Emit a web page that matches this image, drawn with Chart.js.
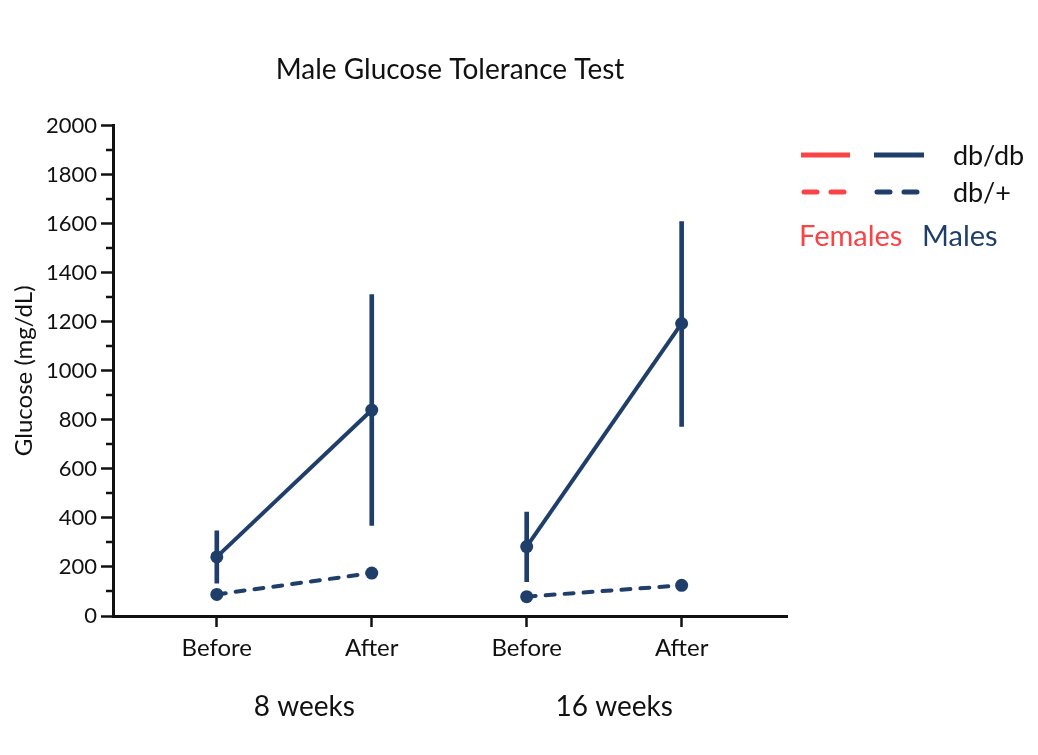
<!DOCTYPE html>
<html>
<head>
<meta charset="utf-8">
<script src="https://cdn.jsdelivr.net/npm/chart.js@4.4.1/dist/chart.umd.min.js"></script>
<style>
  body { margin: 0; background: #fff; font-family: Lato, sans-serif; }
  #wrap { position: relative; width: 1038px; height: 755px; }
  #legend { position: absolute; left: 0; top: 0; width: 1038px; height: 755px; pointer-events: none; }
  #legend svg { position: absolute; left: 0; top: 0; }
  .lbl { position: absolute; font-size: 27px; color: #111; line-height: 1; }
</style>
</head>
<body>
<div id="wrap">
  <canvas id="graph" width="1038" height="755"></canvas>
  <div id="legend">
    <svg width="1038" height="755">
      <line x1="801" y1="155" x2="850" y2="155" stroke="#f94346" stroke-width="5"/>
      <line x1="874" y1="155" x2="924" y2="155" stroke="#1f3f6a" stroke-width="5"/>
      <line x1="804" y1="192" x2="846" y2="192" stroke="#f94346" stroke-width="5" stroke-linecap="round" stroke-dasharray="13 14"/>
      <line x1="877" y1="192" x2="919" y2="192" stroke="#1f3f6a" stroke-width="5" stroke-linecap="round" stroke-dasharray="13 14"/>
    </svg>
    <span class="lbl" style="left:953px;top:141px;">db/db</span>
    <span class="lbl" style="left:953px;top:178px;">db/+</span>
    <span class="lbl" style="left:799px;top:220px;font-size:29px;color:#f94346;">Females</span>
    <span class="lbl" style="left:922px;top:220px;font-size:29px;color:#1f3f6a;">Males</span>
  </div>
</div>
<script>
// values
const categories = ["Before", "After", "Before", "After"];
const groups = ["8 weeks", "16 weeks"];
const dbdbMean = [241, 840, 283, 1193];
const dbdbLow = [134, 369, 140, 773];
const dbdbHigh = [347, 1311, 424, 1609];
const dbhetMean = [88, 175, 79, 125];

const navy = "#1f3f6a";
const xs = categories.map((c, i) => i + 1);

const pts = vals => vals.map((v, i) => ({x: xs[i], y: v}));
// no line between the 8 week and 16 week groups
const skipGap = ctx => ctx.p0DataIndex === 1 ? "transparent" : undefined;

const minorTicks = {
    id: "minorTicks",
    afterDraw(chart) {
        const y = chart.scales.y;
        const ctx = chart.ctx;
        ctx.save();
        ctx.strokeStyle = "#111";
        ctx.lineWidth = 2.5;
        for (let v = 100; v < 2000; v += 200) {
            const py = Math.round(y.getPixelForValue(v));
            ctx.beginPath();
            ctx.moveTo(y.right - 7, py);
            ctx.lineTo(y.right, py);
            ctx.stroke();
        }
        ctx.restore();
    }
};

const groupLabels = {
    id: "groupLabels",
    afterDraw(chart) {
        const x = chart.scales.x;
        const ctx = chart.ctx;
        ctx.save();
        ctx.font = "28px Lato, sans-serif";
        ctx.fillStyle = "#111";
        ctx.textAlign = "center";
        ctx.textBaseline = "middle";
        groups.forEach((g, i) => {
            const px = (x.getPixelForValue(xs[2 * i]) + x.getPixelForValue(xs[2 * i + 1])) / 2 + 10;
            ctx.fillText(g, px, 707);
        });
        ctx.restore();
    }
};

new Chart("graph", {
    type: "line",
    data: {
        datasets: [{
            type: "bar",
            data: dbdbLow.map((lo, i) => ({x: xs[i], y: [lo, dbdbHigh[i]]})),
            backgroundColor: navy,
            borderWidth: 0,
            barThickness: 4,
            order: 3
        }, {
            data: pts(dbdbMean),
            borderColor: navy,
            backgroundColor: navy,
            borderWidth: 4,
            pointRadius: 6.5,
            pointBorderWidth: 0,
            segment: {borderColor: skipGap},
            order: 1
        }, {
            data: pts(dbhetMean),
            borderColor: navy,
            backgroundColor: navy,
            borderWidth: 4,
            borderDash: [9, 10],
            borderCapStyle: "round",
            pointRadius: 6.5,
            pointBorderWidth: 0,
            segment: {borderColor: skipGap},
            order: 2
        }]
    },
    options: {
        responsive: false,
        animation: false,
        layout: {padding: {left: 0, right: 251, top: 40, bottom: 0}},
        scales: {
            x: {
                type: "linear",
                min: 0.33,
                max: 4.68,
                offset: false,
                afterFit: s => { s.height = 139; },
                afterBuildTicks: s => { s.ticks = xs.map(v => ({value: v})); },
                ticks: {
                    callback: v => categories[v - 1],
                    color: "#111",
                    font: {family: "Lato", size: 24},
                    padding: 7
                },
                grid: {offset: false, drawOnChartArea: false, tickLength: 11, tickWidth: 2.5, tickColor: "#111"},
                border: {color: "#111", width: 3}
            },
            y: {
                min: 0,
                max: 2000,
                afterFit: s => { s.width = 113; },
                ticks: {
                    stepSize: 200,
                    callback: v => String(v),
                    color: "#111",
                    font: {family: "Lato", size: 22},
                    padding: 4
                },
                grid: {drawOnChartArea: false, tickLength: 12, tickWidth: 2.5, tickColor: "#111"},
                border: {color: "#111", width: 3},
                title: {
                    display: true,
                    text: "Glucose (mg/dL)",
                    color: "#111",
                    font: {family: "Lato", size: 24},
                    padding: {top: 10, bottom: 0}
                }
            }
        },
        plugins: {
            legend: {display: false},
            tooltip: {enabled: false},
            title: {
                display: true,
                fullSize: false,
                text: "Male Glucose Tolerance Test",
                color: "#111",
                font: {family: "Lato", size: 28, weight: "normal"},
                padding: {top: 13, bottom: 39}
            }
        }
    },
    plugins: [minorTicks, groupLabels]
});
</script>
</body>
</html>
